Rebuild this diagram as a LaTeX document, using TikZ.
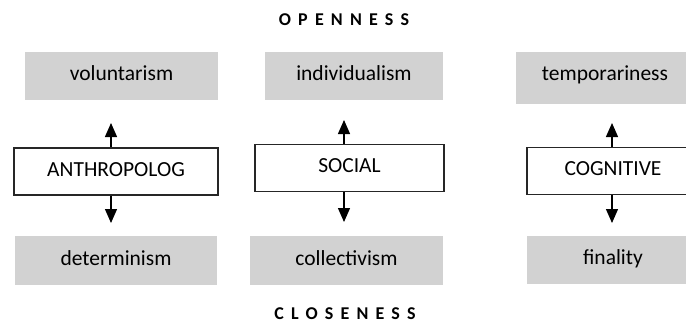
\documentclass[tikz,border=0pt]{standalone}
\usepackage{fontspec}
\setmainfont{Carlito}
\usetikzlibrary{arrows.meta, positioning}

\begin{document}
\begin{tikzpicture}[
                x=1pt, y=-1pt,
                every node/.style={font=\fontsize{21.5}{24}\selectfont, inner sep=0pt, text height=14pt, text depth=5pt},
                dimension/.style={draw=black!85, line width=1.2pt, fill=white, minimum height=47pt},
                pole/.style={fill=gray!35, minimum height=48pt},
                axislabel/.style={font=\fontsize{18}{20}\selectfont\bfseries\addfontfeature{LetterSpace=40}},
                arr/.style={line width=1.3pt, -{Triangle[length=14pt, width=12pt]}}
            ]
                \useasboundingbox (0,0) rectangle (686,324);

                % Axis labels
                \node[axislabel] (open) at (344,21) {OPENNESS};
                \node[axislabel] (close) at (345,315) {CLOSENESS};

                % Dimensions
                \node[dimension, minimum width=204pt] (anth) at (116,171.5) {ANTHROPOLOG};
                \node[dimension, minimum width=189pt] (soc) at (349.5,168) {SOCIAL};
                \node[dimension, minimum width=172pt] (cog) at (613,171) {COGNITIVE};

                % Open poles
                \node[pole, minimum width=193pt] (vol) at (121.5,75.5) {voluntarism};
                \node[pole, minimum width=178pt] (ind) at (354,75.5) {individualism};
                \node[pole, minimum width=178pt, minimum height=52pt, text depth=10pt, anchor=north] (temp) at (605,52) {temporariness};

                % Closed poles
                \node[pole, minimum width=202pt, minimum height=49pt] (det) at (116,260.5) {determinism};
                \node[pole, minimum width=193pt, minimum height=49pt] (col) at (346.5,260.5) {collectivism};
                \node[pole, minimum width=172pt, minimum height=48pt] (fin) at (613,260) {finality};

                % Arrow tips
                \coordinate (anthUp) at (111,123);
                \coordinate (socUp) at (344,120);
                \coordinate (cogUp) at (612,123);
                \coordinate (anthDown) at (111,223);
                \coordinate (socDown) at (344,222);
                \coordinate (cogDown) at (612,223);

                % Arrows
                \draw[arr] (anth.north -| anthUp) -- (anthUp);
                \draw[arr] (soc.north -| socUp) -- (socUp);
                \draw[arr] (cog.north -| cogUp) -- (cogUp);
                \draw[arr] (anth.south -| anthDown) -- (anthDown);
                \draw[arr] (soc.south -| socDown) -- (socDown);
                \draw[arr] (cog.south -| cogDown) -- (cogDown);
            \end{tikzpicture}
\end{document}
